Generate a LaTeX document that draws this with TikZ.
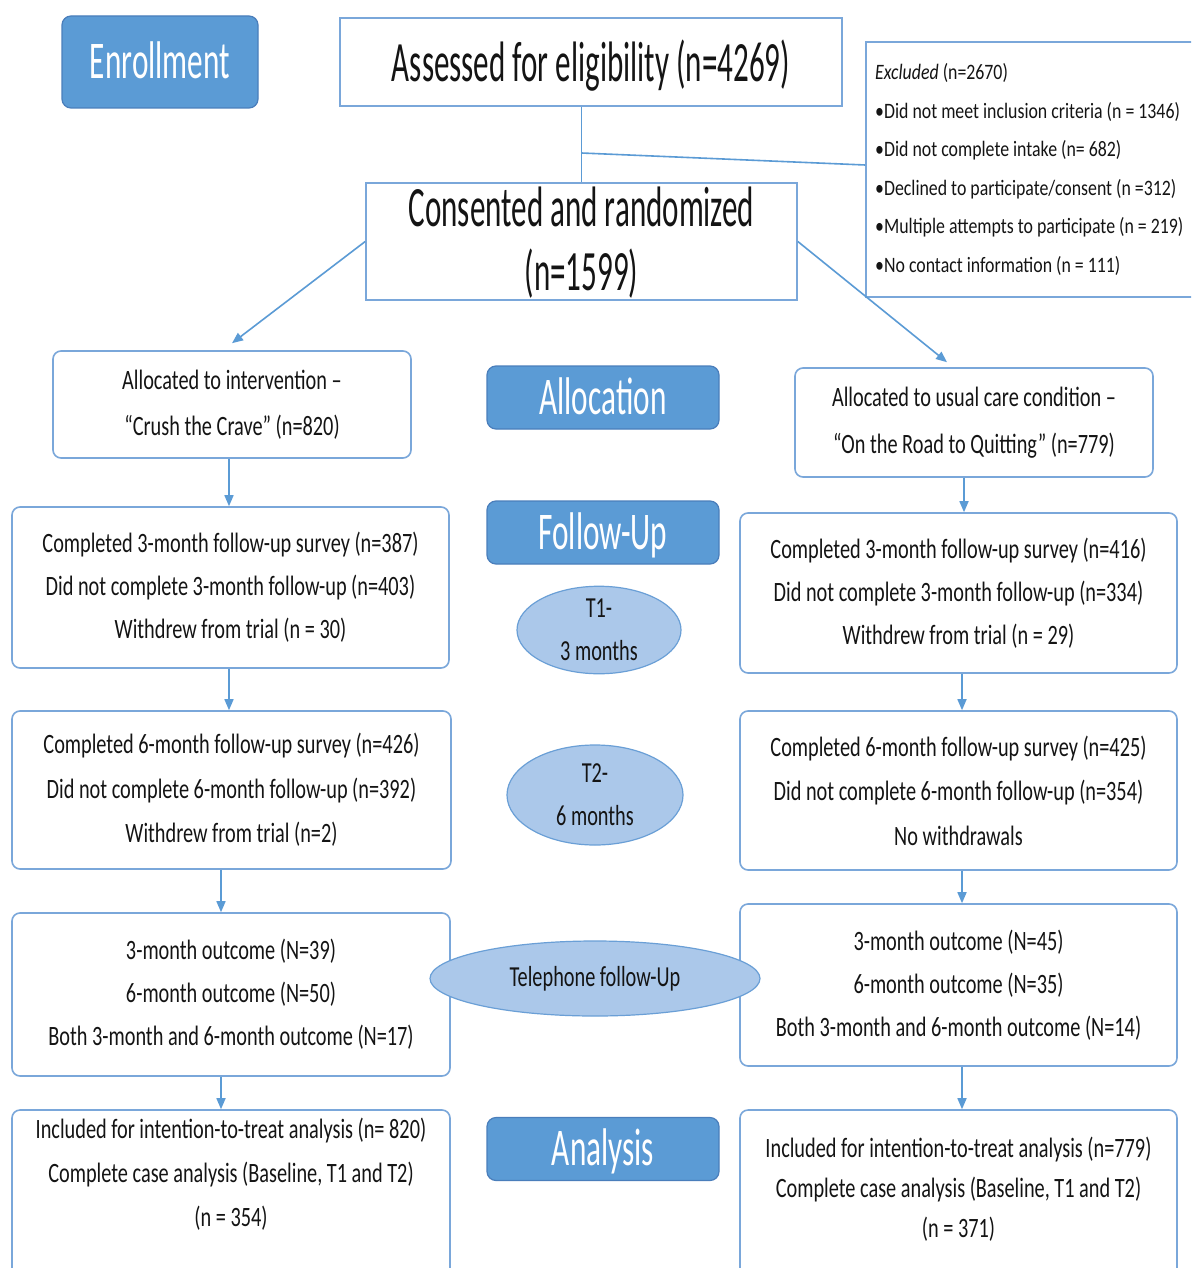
\documentclass[tikz,border=0pt]{standalone}
\usepackage{fontspec}
\setmainfont{Carlito}
\newfontfamily\bigfont{Carlito}[FakeStretch=0.545]
\newfontfamily\labfont{Carlito}[FakeStretch=0.59]
\newfontfamily\boxfont{Carlito}[FakeStretch=0.725]
\newfontfamily\exfont{Carlito}[FakeStretch=0.81]
\newfontfamily\ellfont{Carlito}[FakeStretch=0.70]
\usetikzlibrary{arrows.meta,shapes.geometric}
\definecolor{labfill}{HTML}{5B9BD5}
\definecolor{labdraw}{HTML}{4A7EBB}
\definecolor{boxdraw}{HTML}{7AA7DA}
\definecolor{ellfill}{HTML}{ABC8EA}
\definecolor{elldraw}{HTML}{6A9FD6}
\definecolor{arrcol}{HTML}{5B9BD5}
\definecolor{txt}{HTML}{141414}
\tikzset{
  labelbox/.style={draw=labdraw, fill=labfill, rounded corners=9pt, line width=1.2pt,
    text=white, font=\labfont\fontsize{53}{60}\selectfont, inner sep=0pt,
    text height=33pt, text depth=0pt},
  sqbox/.style={draw=boxdraw, line width=1.6pt, fill=white, inner sep=0pt, align=center, text=txt},
  flowbox/.style={sqbox, rounded corners=8pt, font=\boxfont\fontsize{28}{43}\selectfont},
  ellbox/.style={ellipse, draw=elldraw, fill=ellfill, line width=1.2pt, inner sep=0pt,
    align=center, text=txt, font=\ellfont\fontsize{29}{43}\selectfont},
  arr/.style={draw=arrcol, line width=1.6pt, -{Triangle[length=11pt,width=9pt]}},
  conn/.style={draw=arrcol, line width=1.6pt}
}
\begin{document}
\begin{tikzpicture}[x=1pt,y=-1pt]
\useasboundingbox (0,0) rectangle (1191,1268);
\clip (0,0) rectangle (1191,1268);
\fill[white] (0,0) rectangle (1191,1268);

% stage labels
\node[labelbox, minimum width=196pt, minimum height=92pt] (enr) at (160,62) {Enrollment};
\node[labelbox, minimum width=232pt, minimum height=63pt] (alloc) at (603,397.5) {Allocation};
\node[labelbox, minimum width=232pt, minimum height=63pt] (fup) at (603,532.5) {Follow-Up};
\node[labelbox, minimum width=232pt, minimum height=63pt] (ana) at (603,1149) {Analysis};

% enrollment
\node[sqbox, minimum width=502pt, minimum height=88pt, font=\bigfont\fontsize{57}{65}\selectfont,
  text height=40pt, text depth=0pt] (assess) at (591,62) {Assessed for eligibility (n=4269)};
\node[sqbox, minimum width=431pt, minimum height=117pt, font=\bigfont\fontsize{57}{64}\selectfont,
  text depth=6pt] (cons) at (581.5,241.5) {Consented and randomized\\(n=1599)};
\node[sqbox, minimum width=334pt, minimum height=255pt] (excl) at (1033,169.5) {};
\node[text=txt, align=left, inner sep=0pt, anchor=west,
  font=\exfont\fontsize{22}{38.6}\selectfont] (exclt) at (875,169.5)
  {\textit{Excluded} (n=2670)\\
   •Did not meet inclusion criteria (n = 1346)\\
   •Did not complete intake (n= 682)\\
   •Declined to participate/consent (n =312)\\
   •Multiple attempts to participate (n = 219)\\
   •No contact information (n = 111)};

% allocation
\node[flowbox, minimum width=358pt, minimum height=107pt, font=\boxfont\fontsize{28}{46}\selectfont]
  (alloL) at (232,404.5) {Allocated to intervention –\\“Crush the Crave” (n=820)};
\node[flowbox, minimum width=358pt, minimum height=109pt, font=\boxfont\fontsize{28}{47}\selectfont]
  (alloR) at (974,422.5) {Allocated to usual care condition –\\“On the Road to Quitting” (n=779)};

% follow-up T1
\node[flowbox, minimum width=437pt, minimum height=161pt] (t1L) at (230.5,587.5)
  {Completed 3-month follow-up survey (n=387)\\Did not complete 3-month follow-up (n=403)\\Withdrew from trial (n = 30)};
\node[flowbox, minimum width=437pt, minimum height=160pt] (t1R) at (958.5,593)
  {Completed 3-month follow-up survey (n=416)\\Did not complete 3-month follow-up (n=334)\\Withdrew from trial (n = 29)};
\node[ellbox, minimum width=164pt, minimum height=80pt] (e1) at (599,630) {T1-\\3 months};

% follow-up T2
\node[flowbox, minimum width=439pt, minimum height=158pt, font=\boxfont\fontsize{28}{44.5}\selectfont]
  (sixL) at (231.5,790) {Completed 6-month follow-up survey (n=426)\\Did not complete 6-month follow-up (n=392)\\Withdrew from trial (n=2)};
\node[flowbox, minimum width=437pt, minimum height=159pt, font=\boxfont\fontsize{28}{44.5}\selectfont]
  (sixR) at (958.5,790.5) {Completed 6-month follow-up survey (n=425)\\Did not complete 6-month follow-up (n=354)\\No withdrawals};
\node[ellbox, minimum width=176pt, minimum height=100pt] (e2) at (595,795) {T2-\\6 months};

% telephone
\node[flowbox, minimum width=438pt, minimum height=163pt] (telL) at (231,994.5)
  {3-month outcome (N=39)\\6-month outcome (N=50)\\Both 3-month and 6-month outcome (N=17)};
\node[flowbox, minimum width=437pt, minimum height=162pt] (telR) at (958.5,985)
  {3-month outcome (N=45)\\6-month outcome (N=35)\\Both 3-month and 6-month outcome (N=14)};
\node[ellbox, minimum width=330pt, minimum height=75pt] (e3) at (595,978.5) {Telephone follow-Up};

% analysis
\node[flowbox, minimum width=438pt, minimum height=190pt] (anL) at (231,1205) {};
\node[flowbox, minimum width=437pt, minimum height=190pt] (anR) at (958.5,1205) {};
\node[text=txt, align=center, inner sep=0pt, font=\boxfont\fontsize{28}{44}\selectfont] (anLt) at (231,1174)
  {Included for intention-to-treat analysis (n= 820)\\Complete case analysis (Baseline, T1 and T2)\\(n = 354)};
\node[text=txt, align=center, inner sep=0pt, font=\boxfont\fontsize{28}{40}\selectfont] (anRt) at (958.5,1189)
  {Included for intention-to-treat analysis (n=779)\\Complete case analysis (Baseline, T1 and T2)\\(n = 371)};

% connectors
\draw[conn] (assess.south -| cons.north) -- (cons.north);
\coordinate (br) at (581.5,153);
\draw[conn] (br) -- ([yshift=4.5pt]excl.west);
\draw[arr] (cons.west) -- ([yshift=7pt]alloL.north);
\draw[arr] (cons.east) -- ([xshift=-27pt,yshift=5pt]alloR.north);

\draw[arr] ([xshift=-3pt]alloL.south) -- ([xshift=-3pt]alloL.south |- t1L.north);
\draw[arr] ([xshift=-10pt]alloR.south) -- ([xshift=-10pt]alloR.south |- t1R.north);
\draw[arr] ([xshift=-1.5pt]t1L.south) -- ([xshift=-1.5pt]t1L.south |- sixL.north);
\draw[arr] ([xshift=3.5pt]t1R.south) -- ([xshift=3.5pt]t1R.south |- sixR.north);
\draw[arr] ([xshift=-10.5pt]sixL.south) -- ([xshift=-10.5pt]sixL.south |- telL.north);
\draw[arr] ([xshift=3.5pt]sixR.south) -- ([xshift=3.5pt]sixR.south |- telR.north);
\draw[arr] ([xshift=-10pt]telL.south) -- ([xshift=-10pt]telL.south |- anL.north);
\draw[arr] ([xshift=3.5pt]telR.south) -- ([xshift=3.5pt]telR.south |- anR.north);
\end{tikzpicture}
\end{document}
